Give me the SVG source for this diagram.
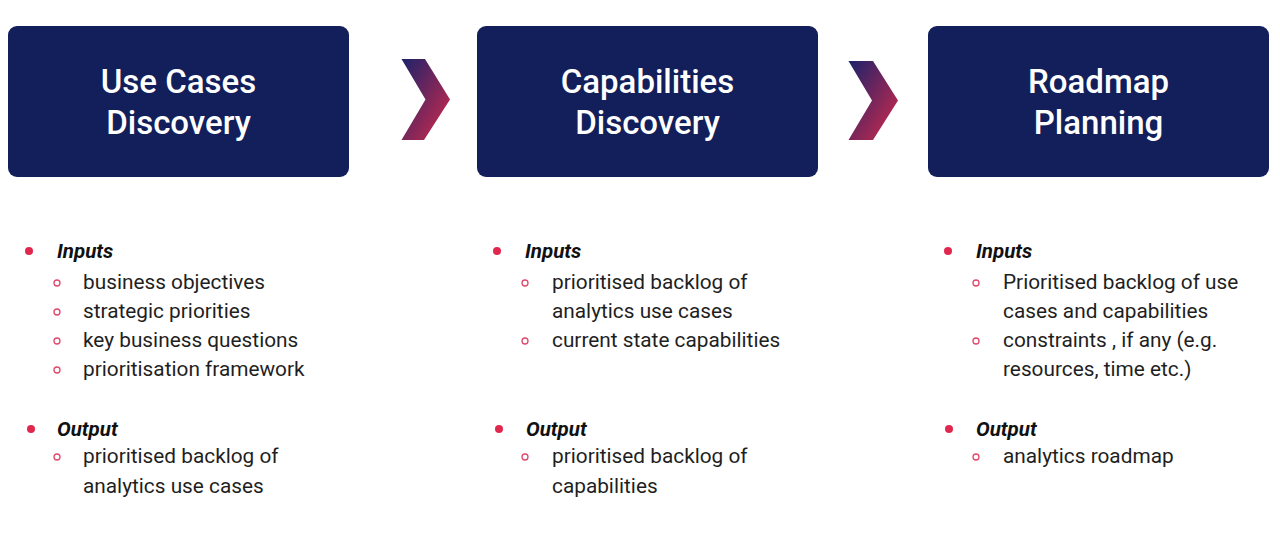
<svg xmlns="http://www.w3.org/2000/svg" width="1280" height="552" viewBox="0 0 1280 552">
<defs>
<linearGradient id="chev" x1="0" y1="0" x2="1" y2="1">
<stop offset="0" stop-color="#1c226a"/>
<stop offset="1" stop-color="#d42a4b"/>
</linearGradient>
<style>
.box{fill:#121f5b;}
.title{font-family:Roboto,"Liberation Sans",sans-serif;font-size:33px;font-weight:500;fill:#ffffff;text-anchor:middle;}
.head{font-family:Roboto,"Liberation Sans",sans-serif;font-size:20.5px;font-weight:bold;font-style:italic;fill:#111111;}
.item{font-family:Roboto,"Liberation Sans",sans-serif;font-size:20.8px;fill:#1f1f1f;}
.dot{fill:#e0284f;}
.ring{fill:none;stroke:#e0486a;stroke-width:1.3;}
</style>
</defs>
<rect width="1280" height="552" fill="#ffffff"/>
<g id="node-usecases">
<rect class="box" x="8" y="26" width="341" height="151" rx="9"/>
<text class="title" x="178.5" y="93">Use Cases</text>
<text class="title" x="178.5" y="134">Discovery</text>
</g>
<g id="node-capabilities">
<rect class="box" x="477" y="26" width="341" height="151" rx="9"/>
<text class="title" x="647.5" y="93">Capabilities</text>
<text class="title" x="647.5" y="134">Discovery</text>
</g>
<g id="node-roadmap">
<rect class="box" x="928" y="26" width="341" height="151" rx="9"/>
<text class="title" x="1098.5" y="93">Roadmap</text>
<text class="title" x="1098.5" y="134">Planning</text>
</g>
<g id="connectors">
<polygon fill="url(#chev)" points="401.5,59 425,59 450,99.5 424,140 401.5,140 425.5,99.5"/>
<polygon fill="url(#chev)" points="848.5,61 873,61 898,100.5 873,140 848.5,140 872,100.5"/>
</g>
<g id="list-usecases">
<circle class="dot" cx="29" cy="251" r="4"/>
<text class="head" x="57" y="258">Inputs</text>
<circle class="ring" cx="57" cy="283" r="3"/><text class="item" x="83" y="289">business objectives</text>
<circle class="ring" cx="57" cy="312" r="3"/><text class="item" x="83" y="318">strategic priorities</text>
<circle class="ring" cx="57" cy="341" r="3"/><text class="item" x="83" y="347">key business questions</text>
<circle class="ring" cx="57" cy="370" r="3"/><text class="item" x="83" y="376">prioritisation framework</text>
<circle class="dot" cx="31" cy="429" r="4"/>
<text class="head" x="57" y="436">Output</text>
<circle class="ring" cx="57" cy="457" r="3"/><text class="item" x="83" y="463">prioritised backlog of</text>
<text class="item" x="83" y="493">analytics use cases</text>
</g>
<g id="list-capabilities">
<circle class="dot" cx="497" cy="251" r="4"/>
<text class="head" x="525" y="258">Inputs</text>
<circle class="ring" cx="525" cy="283" r="3"/><text class="item" x="552" y="289">prioritised backlog of</text>
<text class="item" x="552" y="318">analytics use cases</text>
<circle class="ring" cx="525" cy="341" r="3"/><text class="item" x="552" y="347">current state capabilities</text>
<circle class="dot" cx="499" cy="429" r="4"/>
<text class="head" x="526" y="436">Output</text>
<circle class="ring" cx="525" cy="457" r="3"/><text class="item" x="552" y="463">prioritised backlog of</text>
<text class="item" x="552" y="493">capabilities</text>
</g>
<g id="list-roadmap">
<circle class="dot" cx="948" cy="251" r="4"/>
<text class="head" x="976" y="258">Inputs</text>
<circle class="ring" cx="976" cy="283" r="3"/><text class="item" x="1003" y="289">Prioritised backlog of use</text>
<text class="item" x="1003" y="318">cases and capabilities</text>
<circle class="ring" cx="976" cy="341" r="3"/><text class="item" x="1003" y="347">constraints , if any (e.g.</text>
<text class="item" x="1003" y="376">resources, time etc.)</text>
<circle class="dot" cx="949" cy="429" r="4"/>
<text class="head" x="976" y="436">Output</text>
<circle class="ring" cx="976" cy="457" r="3"/><text class="item" x="1003" y="463">analytics roadmap</text>
</g>
</svg>
